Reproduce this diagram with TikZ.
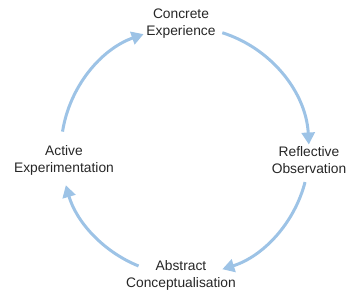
\documentclass[tikz,border=0pt]{standalone}
\usepackage{fontspec}
\setmainfont{Liberation Sans}
\usetikzlibrary{arrows.meta}
\definecolor{cyc}{RGB}{157,195,230}
\tikzset{
  lbl/.style={align=center,font=\fontsize{13.8}{17}\selectfont,text=black!85,inner sep=0pt},
  cycarrow/.style={draw=cyc,line width=3pt,-{Triangle[length=12pt,width=13pt]}}
}
\begin{document}
\begin{tikzpicture}[x=1pt,y=1pt]
\useasboundingbox (0,0) rectangle (363,-299);
\coordinate (c) at (185,-151);
\node[lbl] (ce) at (181,-24) {Concrete\\Experience};
\node[lbl] (ro) at (309,-160) {Reflective\\Observation};
\node[lbl] (ac) at (181,-275) {Abstract\\Conceptualisation};
\node[lbl] (ae) at (64,-160) {Active\\Experimentation};
\draw[cycarrow] ([shift={(72.5:124)}]c) arc[start angle=72.5,end angle=3,radius=124];
\draw[cycarrow] ([shift={(-14.5:124)}]c) arc[start angle=-14.5,end angle=-72.5,radius=124];
\draw[cycarrow] ([shift={(-112:124)}]c) arc[start angle=-112,end angle=-164,radius=124];
\draw[cycarrow] ([shift={(171:124)}]c) arc[start angle=171,end angle=109.5,radius=124];
\end{tikzpicture}
\end{document}
